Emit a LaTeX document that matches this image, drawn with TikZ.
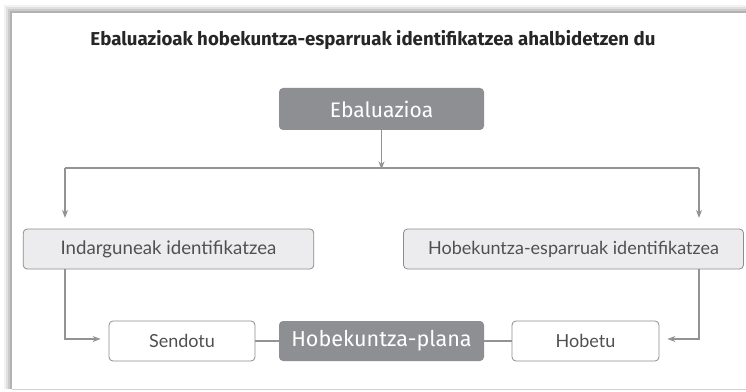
\documentclass[tikz,border=0pt]{standalone}
\usepackage{fontspec}
\setmainfont{Fira Sans}
\newfontfamily\handfont{Lato}
\usetikzlibrary{arrows.meta}
\definecolor{darkbox}{HTML}{8E8F93}
\definecolor{lightbox}{HTML}{ECECEE}
\definecolor{edgegray}{HTML}{8C8C8C}
\definecolor{linegray}{HTML}{939393}
\definecolor{textgray}{HTML}{505050}
\tikzset{
  darknode/.style={draw=none, fill=darkbox, rounded corners=3pt, text=white, inner sep=0pt, font=\fontsize{15.8}{18}\selectfont},
  lightnode/.style={draw=edgegray, line width=0.6pt, fill=lightbox, rounded corners=3pt, text=textgray, inner sep=0pt, minimum height=30pt, font=\handfont\fontsize{13.5}{15}\selectfont},
  whitenode/.style={draw=edgegray, line width=0.6pt, fill=white, rounded corners=3pt, text=textgray, inner sep=0pt, minimum height=30pt, font=\handfont\fontsize{13.5}{15}\selectfont},
  conn/.style={draw=linegray, line width=0.9pt},
  arr/.style={conn, -{Stealth[length=6pt,width=4.5pt]}},
}
\begin{document}
\begin{tikzpicture}[x=0.75pt,y=-0.75pt]
\useasboundingbox (0,0) rectangle (746,392);
\fill[white] (0,0) rectangle (746,392);
% shadow of the panel
\foreach \d/\o in {8/0.05,6/0.07,4/0.09,2/0.12}{
  \fill[black,opacity=\o] (12-\d,13-\d) rectangle (746,389);
}
\fill[white] (12,13) rectangle (746,389);
\draw[line width=0.6pt, draw=black!18] (12,389.5) -- (746,389.5);

\node[font=\bfseries\fontsize{14}{16}\selectfont, text=black!85] (title) at (373,40) {Ebaluazioak hobekuntza-esparruak identifikatzea ahalbidetzen du};

\node[darknode, minimum width=153.75pt, minimum height=31.5pt] (eval) at (381.5,109) {Ebaluazioa};
\node[lightnode, minimum width=218pt, font=\handfont\fontsize{14}{16}\selectfont] (str) at (168.5,249) {Indarguneak identifikatzea};
\node[lightnode, minimum width=255pt] (imp) at (573.5,249) {Hobekuntza-esparruak identifikatzea};
\node[whitenode, minimum width=109.5pt] (send) at (182,341) {Sendotu};
\node[darknode, minimum width=153.75pt, minimum height=30pt, font=\fontsize{16.2}{18}\selectfont] (plan) at (381.5,341) {Hobekuntza-plana};
\node[whitenode, minimum width=110.25pt] (hob) at (585.5,341) {Hobetu};

\coordinate (split) at (381.5,168);
\coordinate (tl) at (65,168);
\coordinate (tr) at (699,168);
\coordinate (bl) at (65,339);
\coordinate (br) at (699,339);

\draw[arr, shorten >=-1pt] (eval.south) -- (split);
\draw[conn] (tl) -- (tr);
\draw[arr, shorten >=8pt] (tl) -- (tl |- str.north);
\draw[arr, shorten >=8pt] (tr) -- (tr |- imp.north);
\draw[arr, shorten >=6pt] (str.south -| bl) -- (bl) -- (bl -| send.west);
\draw[arr, shorten >=6pt] (imp.south -| br) -- (br) -- (br -| hob.east);
\draw[conn] (send.east) -- (plan.west);
\draw[conn] (plan.east) -- (hob.west);
\end{tikzpicture}
\end{document}
